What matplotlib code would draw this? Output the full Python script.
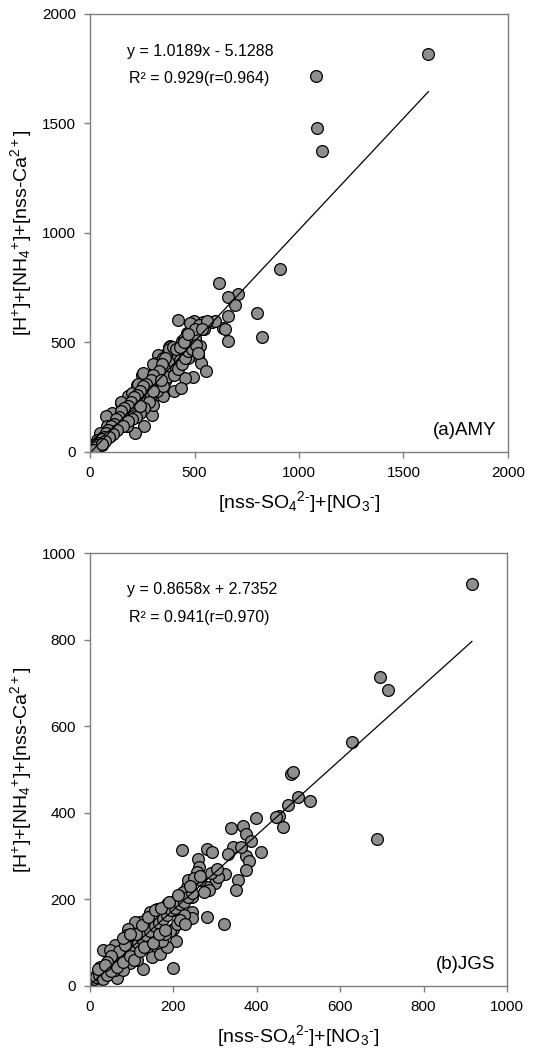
import matplotlib
matplotlib.use('Agg')
import matplotlib.pyplot as plt

plt.rcParams['font.family'] = ['Liberation Sans', 'DejaVu Sans']
plt.rcParams['mathtext.fontset'] = 'custom'
plt.rcParams['mathtext.rm'] = 'Liberation Sans'
plt.rcParams['mathtext.it'] = 'Liberation Sans:italic'
plt.rcParams['mathtext.bf'] = 'Liberation Sans:bold'

# (a) AMY : [nss-SO4 2-]+[NO3-] vs [H+]+[NH4+]+[nss-Ca2+]
amy_x = [1619, 1080, 1084, 1110, 908, 616, 710, 662, 694, 798, 822, 662, 658,
         419, 497, 543, 584, 637, 648, 494, 438, 462, 451, 525, 519, 530, 553,
         494, 454, 398, 382, 385, 422, 366, 326, 318, 350, 358, 404, 435, 322,
         311, 258, 279, 223, 266, 306, 350, 258, 295, 302, 215, 207, 175, 146,
         183, 137, 104, 76, 83, 127, 48, 32, 16, 8, 64, 96, 56, 100, 130, 150,
         180, 200, 220, 240, 260, 280, 300, 320, 340, 360, 380, 400, 420, 440,
         460, 480, 500, 150, 200, 250, 300, 350, 380, 460, 480, 520, 250, 230,
         255, 234, 170, 120, 90, 60, 40, 25, 12, 20, 45, 70, 110, 140, 190, 210,
         270, 290, 330, 370, 410, 430, 470, 545, 600, 30, 50, 80, 35, 10,
         380, 395, 410, 360, 345, 330, 300, 290, 270, 255, 240, 225, 210, 195,
         180, 165, 150, 140, 125, 115, 100, 85, 75, 65, 55, 45, 35, 28, 18,
         280, 320, 350, 400, 420, 440, 455, 470, 490, 505, 515, 260, 240, 220,
         200, 180, 160, 130, 110, 90, 70, 55, 240, 300, 340, 430, 450, 500,
         470, 560, 535]
amy_y = [1815, 1716, 1479, 1374, 837, 770, 722, 708, 669, 634, 527, 622, 506,
         602, 596, 591, 593, 565, 562, 512, 505, 543, 515, 482, 436, 406, 368,
         342, 337, 391, 482, 421, 451, 451, 444, 406, 413, 322, 277, 292, 345,
         383, 353, 315, 307, 246, 254, 254, 117, 170, 216, 87, 163, 117, 223,
         254, 163, 178, 163, 117, 132, 87, 56, 26, 11, 56, 71, 33, 110, 140, 170,
         175, 215, 230, 250, 270, 290, 310, 330, 350, 380, 390, 410, 440, 460,
         470, 500, 520, 230, 270, 350, 400, 430, 480, 510, 590, 580, 290, 310,
         360, 231, 190, 125, 80, 70, 40, 20, 15, 30, 50, 60, 100, 120, 200, 180,
         300, 260, 300, 340, 380, 420, 430, 560, 600, 35, 45, 75, 25, 5,
         470, 480, 470, 430, 400, 370, 350, 330, 310, 300, 280, 260, 250, 230,
         210, 200, 185, 160, 150, 130, 120, 100, 85, 70, 60, 40, 30, 22, 10,
         230, 280, 300, 350, 380, 400, 430, 460, 470, 490, 450, 200, 180, 160,
         150, 140, 120, 100, 80, 70, 50, 35, 210, 280, 330, 480, 500, 560,
         540, 600, 560]
amy_fit = (1.0189, -5.1288)

# (b) JGS
jgs_x = [916, 696, 715, 629, 482, 487, 689, 527, 499, 476, 463, 453, 446, 399,
         410, 339, 367, 373, 385, 374, 382, 374, 356, 350, 342, 361, 330, 323,
         300, 308, 322, 281, 280, 220, 260, 262, 256, 281, 293, 286, 273, 264,
         248, 240, 232, 222, 216, 244, 245, 245, 225, 201, 193, 200, 184, 184,
         200, 206, 200, 176, 160, 156, 148, 144, 136, 132, 120, 112, 108, 92,
         100, 88, 92, 110, 124, 128, 112, 96, 76, 60, 64, 52, 44, 32, 48, 64,
         24, 16, 8, 4, 36, 60, 80, 144, 156, 140, 160, 148, 168, 184, 172, 192,
         180, 208, 216, 228, 20, 12, 28, 40, 70, 10, 6, 14, 18, 26,
         10, 15, 22, 30, 38, 45, 55, 65, 75, 85, 95, 105, 115, 125, 135, 145,
         155, 165, 175, 185, 195, 205, 215, 225, 235, 245, 30, 40, 50, 65, 80,
         95, 105, 120, 130, 150, 165, 180, 110, 125, 140, 155, 170, 190, 210,
         235, 250, 265, 290, 305, 240, 70, 85, 50, 40, 20, 35, 80, 95]
jgs_y = [929, 713, 683, 564, 490, 495, 339, 427, 437, 417, 367, 392, 390, 389,
         309, 365, 370, 350, 336, 301, 288, 269, 244, 221, 321, 321, 306, 259,
         238, 252, 144, 159, 229, 313, 294, 275, 263, 317, 309, 221, 217, 244,
         248, 240, 229, 217, 206, 206, 171, 156, 163, 190, 194, 175, 190, 175,
         132, 104, 42, 159, 179, 167, 152, 171, 156, 136, 148, 132, 148, 132,
         113, 117, 94, 79, 86, 40, 59, 52, 55, 94, 75, 63, 52, 82, 84, 19,
         44, 28, 13, 7, 32, 36, 36, 128, 113, 98, 90, 67, 75, 90, 105, 128,
         121, 144, 152, 144, 20, 10, 25, 30, 60, 15, 5, 8, 12, 22,
         15, 20, 25, 30, 35, 42, 50, 58, 65, 75, 85, 92, 100, 108, 118, 128,
         138, 145, 155, 165, 175, 180, 190, 195, 205, 215, 15, 25, 35, 45, 55,
         70, 60, 80, 90, 100, 120, 130, 120, 140, 160, 175, 180, 195, 210,
         245, 250, 255, 260, 270, 230, 80, 95, 70, 55, 40, 48, 110, 120]
jgs_fit = (0.8658, 2.7352)

xlab = r'[nss-SO$_4$$^{\text{2-}}$]+[NO$_3$$^{\text{-}}$]'
ylab = r'[H$^{+}$]+[NH$_4$$^{+}$]+[nss-Ca$^{2+}$]'

fig = plt.figure(figsize=(5.4, 10.61), dpi=100)
ax1 = fig.add_axes([0.1667, 0.574, 0.774, 0.413])
ax2 = fig.add_axes([0.1667, 0.0707, 0.772, 0.408])


def panel(ax, x, y, fit, lim, step, eq, r2, tag):
    ax.scatter(x, y, s=72, facecolor='#8e8e8e', edgecolor='black',
               linewidth=0.9, zorder=2)
    x0, x1 = min(x), max(x)
    ax.plot([x0, x1], [fit[0] * x0 + fit[1], fit[0] * x1 + fit[1]],
            color='black', lw=0.9, zorder=3)
    ax.set_xlim(0, lim)
    ax.set_ylim(0, lim)
    ticks = list(range(0, lim + 1, step))
    ax.set_xticks(ticks)
    ax.set_yticks(ticks)
    for s in ax.spines.values():
        s.set_color('#7f7f7f')
        s.set_linewidth(1.0)
    ax.tick_params(direction='out', length=4, width=1, color='#7f7f7f',
                   labelsize=11, pad=6)
    ax.set_xlabel(xlab, fontsize=14, labelpad=7)
    ax.set_ylabel(ylab, fontsize=14, labelpad=6)
    ax.text(0.088, 0.915, eq, transform=ax.transAxes, fontsize=11.5,
            va='center', ha='left')
    ax.text(0.094, 0.852, r2, transform=ax.transAxes, fontsize=11.5,
            va='center', ha='left')
    ax.text(0.972, 0.05, tag, transform=ax.transAxes, fontsize=13.5,
            va='center', ha='right')


panel(ax1, amy_x, amy_y, amy_fit, 2000, 500,
      'y = 1.0189x - 5.1288', 'R² = 0.929(r=0.964)', '(a)AMY')
panel(ax2, jgs_x, jgs_y, jgs_fit, 1000, 200,
      'y = 0.8658x + 2.7352', 'R² = 0.941(r=0.970)', '(b)JGS')

fig.savefig('out.png', dpi=100)
